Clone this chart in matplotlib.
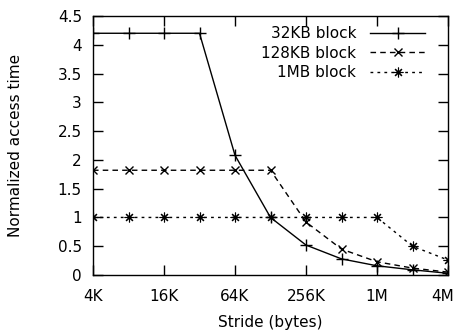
import numpy as np
import matplotlib.pyplot as plt
import matplotlib.transforms as mtransforms

plt.rcParams['font.family'] = ['DejaVu Sans']
plt.rcParams['font.size'] = 11

# stride in bytes (4K .. 4M)
strides = [4096 * 2 ** i for i in range(11)]
tick_labels = ['4K', '16K', '64K', '256K', '1M', '4M']

block_32k = [4.2, 4.2, 4.2, 4.2, 2.08, 1.0, 0.52, 0.28, 0.16, 0.09, 0.03]
block_128k = [1.82, 1.82, 1.82, 1.82, 1.82, 1.82, 0.92, 0.45, 0.23, 0.12, 0.05]
block_1m = [1.0, 1.0, 1.0, 1.0, 1.0, 1.0, 1.0, 1.0, 1.0, 0.5, 0.26]

fig = plt.figure(figsize=(4.57, 3.33), dpi=100)
ax = fig.add_axes([93 / 457, 1 - 275 / 333, (448 - 93) / 457, (275 - 16) / 333])

ax.plot(strides, block_32k, color='black', lw=1, marker='+', ms=9, mew=1,
        label='32KB block')
ax.plot(strides, block_128k, color='black', lw=1, ls=(0, (4, 3)), marker='x',
        ms=6, mew=1, label='128KB block')
ax.plot(strides, block_1m, color='black', lw=1, ls=(0, (2, 3)),
        marker=(8, 2, 0), ms=7, mew=0.8, label='1MB block')

ax.set_xscale('log', base=2)
ax.set_xlim(4096, 4096 * 1024)
ax.set_xticks([4096 * 4 ** i for i in range(6)])
ax.set_xticklabels(tick_labels)
ax.minorticks_off()
ax.set_ylim(0, 4.5)
ax.set_yticks(np.arange(0, 4.51, 0.5))
ax.set_yticklabels(['0', '0.5', '1', '1.5', '2', '2.5', '3', '3.5', '4', '4.5'])
ax.tick_params(direction='in', length=7, width=1, top=True, right=True,
               labelsize=11)
ax.tick_params(axis='x', pad=10)
ax.tick_params(axis='y', pad=8)
for s in ax.spines.values():
    s.set_linewidth(1)

# keep the last x label (4M) inside the figure
last = ax.get_xticklabels()[-1]
last.set_transform(last.get_transform() +
                   mtransforms.ScaledTranslation(-5 / 100, 0, fig.dpi_scale_trans))

ax.set_xlabel('Stride (bytes)', fontsize=11)
ax.set_ylabel('Normalized access time', fontsize=11)
ax.xaxis.set_label_coords(0.5, -0.155)
ax.yaxis.set_label_coords(-0.197, 0.5)

ax.legend(loc='upper right', bbox_to_anchor=((425 - 93) / 355, (275 - 26) / 259),
          frameon=False, markerfirst=False, handlelength=3.6, fontsize=11,
          borderaxespad=0, borderpad=0, labelspacing=0.3, handletextpad=0.9)

fig.savefig('out.png', dpi=100)
